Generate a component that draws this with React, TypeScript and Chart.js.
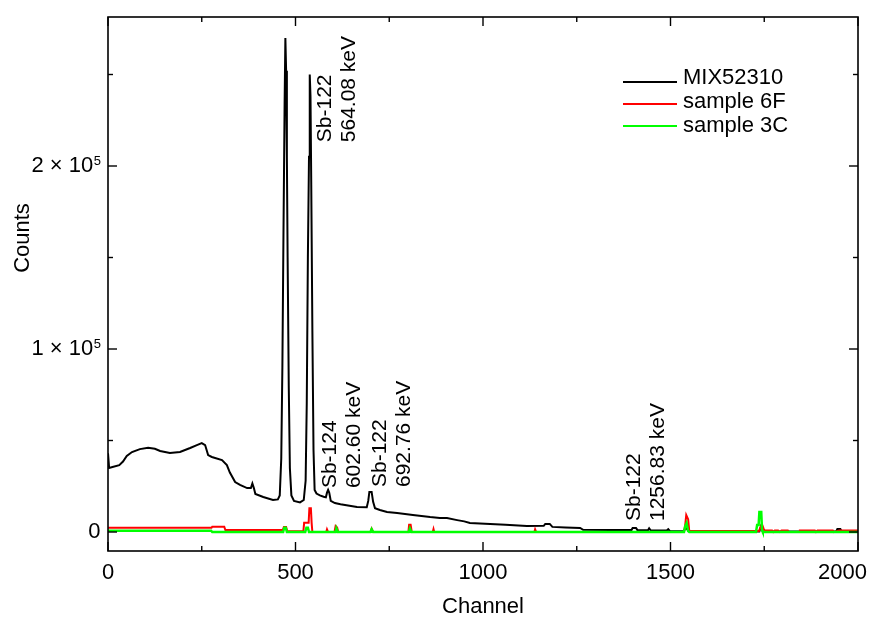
import React, { useEffect, useRef } from "react";
import { Chart, registerables } from "chart.js";

Chart.register(...registerables);

// ---------- data ----------
const seriesNames = ["MIX52310", "sample 6F", "sample 3C"];
const seriesColors = ["#000000", "#ff0000", "#00ff00"];

const mixChannels = [
  0, 2, 3, 12, 30, 40, 50, 64, 85, 107, 125, 139, 165, 192, 219, 237, 250, 259, 267, 277,
  304, 317, 325, 339, 352, 371, 381, 385, 389, 393, 414, 440, 453, 458, 462, 465, 468, 471,
  473, 475, 477, 479, 482, 485, 489, 496, 512, 522, 527, 530, 533, 536, 538, 540, 542, 545,
  548, 551, 556, 565, 575, 581, 584, 587, 590, 594, 605, 620, 640, 664, 690, 694, 697, 703,
  707, 712, 725, 744, 771, 813, 859, 885, 904, 931, 950, 965, 1019, 1060, 1117, 1162, 1166,
  1178, 1185, 1220, 1259, 1267, 1340, 1396, 1399, 1408, 1412, 1440, 1443, 1447, 1490, 1494,
  1498, 1535, 1541, 1548, 1600, 1737, 1741, 1746, 1942, 1945, 1953, 1956, 2000,
];
const mixCounts = [
  43000, 43000, 35000, 35500, 36500, 38500, 41500, 43700, 45300, 46000, 45500, 44300, 43200,
  43700, 45900, 47500, 48600, 47500, 42000, 41000, 39300, 36600, 32500, 27300, 25700, 24000,
  24000, 26500, 24000, 20800, 19100, 17500, 17800, 20000, 40000, 90000, 165000, 235000,
  270000, 252000, 205000, 150000, 80000, 35000, 20000, 17000, 16200, 17500, 28000, 70000,
  150000, 205000, 250000, 238000, 190000, 110000, 45000, 23000, 21000, 20000, 19300, 19000,
  21500, 23000, 21500, 17000, 15800, 15200, 14500, 13700, 13500, 17000, 21900, 21900, 16500,
  13000, 12000, 10900, 10400, 9300, 8200, 7700, 7600, 6500, 5800, 4900, 4400, 3900, 3300,
  3400, 4400, 4400, 2800, 2500, 2200, 1200, 1100, 1100, 2200, 2200, 1000, 1000, 2000, 900,
  800, 1500, 600, 400, 2500, 500, 300, 300, 3000, 300, 300, 1600, 1600, 300, 300,
];

const sample6FChannels = [
  0, 276, 278, 310, 313, 466, 469, 475, 478, 521, 523, 535, 537, 541, 543, 545, 582, 584,
  587, 604, 607, 611, 614, 700, 703, 707, 801, 803, 807, 810, 866, 868, 870, 1137, 1139,
  1142, 1536, 1539, 1542, 1547, 1550, 1736, 1740, 1744, 1748, 1751, 1771, 1774, 1778, 1787,
  1790, 1796, 1813, 1816, 1843, 1845, 1885, 1888, 1892, 1933, 1936, 1950, 2000,
];
const sample6FCounts = [
  2300, 2300, 2900, 2900, 1100, 1100, 2800, 2800, 400, 400, 5000, 5000, 13000, 13000, 5000,
  0, 0, 1500, 0, 0, 3300, 2500, 0, 0, 1800, 0, 0, 4000, 4000, 0, 0, 1600, 0, 0, 1500, 0, 0,
  3500, 9300, 7000, 600, 600, 2500, 4200, 2000, 800, 800, 0, 800, 800, 0, 800, 800, 0, 0,
  800, 800, 0, 800, 800, 0, 800, 800,
];

const sample3CChannels = [
  0, 275, 278, 467, 470, 474, 477, 526, 529, 533, 536, 607, 609, 613, 700, 703, 707, 802,
  805, 809, 1536, 1539, 1543, 1547, 1550, 1728, 1731, 1735, 1737, 1742, 1744, 1746, 2000,
];
const sample3CCounts = [
  700, 700, 0, 0, 2300, 2300, 0, 0, 2300, 2300, 0, 0, 2000, 0, 0, 1500, 0, 0, 2000, 0, 0,
  3000, 4800, 500, 0, 0, 3800, 3800, 10900, 10900, 1000, 0, 0,
];

const xMajorTicks = [0, 500, 1000, 1500, 2000];
const xMinorTicks = [250, 750, 1250, 1750];
const yMajorTicks = [0, 100000, 200000];
const yMinorTicks = [50000, 150000, 250000];
const yTickMantissas = ["0", "1 × 10", "2 × 10"];
const yTickExponents = ["", "5", "5"];

const annotationIsotopes = ["Sb-122", "Sb-124", "Sb-122", "Sb-122"];
const annotationEnergies = ["564.08 keV", "602.60 keV", "692.76 keV", "1256.83 keV"];
const annotationChannels = [595, 608, 741, 1419];
const annotationCounts = [213000, 24000, 24600, 6000];

const xTitle = "Channel";
const yTitle = "Counts";

// ---------- drawing ----------
const FONT = '"Liberation Sans", Arial, Helvetica, sans-serif';

const toPoints = (xs: number[], ys: number[]) => xs.map((x, i) => ({ x, y: ys[i] }));

const framePlugin = {
  id: "mathematicaFrame",
  afterDraw(chart: any) {
    const { ctx, chartArea: a, scales } = chart;
    const xs = scales.x;
    const ys = scales.y;
    ctx.save();
    ctx.strokeStyle = "#000";
    ctx.fillStyle = "#000";
    ctx.lineWidth = 1.6;
    ctx.strokeRect(a.left, a.top, a.right - a.left, a.bottom - a.top);

    ctx.lineWidth = 1.4;
    const tick = (x1: number, y1: number, x2: number, y2: number) => {
      ctx.beginPath();
      ctx.moveTo(x1, y1);
      ctx.lineTo(x2, y2);
      ctx.stroke();
    };
    const xTickSet = (vals: number[], len: number) =>
      vals.forEach((v) => {
        const px = xs.getPixelForValue(v);
        tick(px, a.bottom, px, a.bottom - len);
        tick(px, a.top, px, a.top + len);
      });
    const yTickSet = (vals: number[], len: number) =>
      vals.forEach((v) => {
        const py = ys.getPixelForValue(v);
        tick(a.left, py, a.left + len, py);
        tick(a.right, py, a.right - len, py);
      });
    xTickSet(xMajorTicks, 9);
    xTickSet(xMinorTicks, 5);
    yTickSet(yMajorTicks, 9);
    yTickSet(yMinorTicks, 5);

    // x tick labels
    ctx.font = `22px ${FONT}`;
    ctx.textAlign = "center";
    ctx.textBaseline = "alphabetic";
    xMajorTicks.forEach((v) => {
      const label = String(v);
      const w = ctx.measureText(label).width;
      let px = xs.getPixelForValue(v);
      px = Math.min(px, chart.width - 5 - w / 2);
      ctx.fillText(label, px, a.bottom + 28);
    });

    // y tick labels with superscript exponent
    const right = a.left - 7;
    yMajorTicks.forEach((v, i) => {
      const py = ys.getPixelForValue(v);
      const exp = yTickExponents[i];
      let supW = 0;
      if (exp) {
        ctx.font = `13px ${FONT}`;
        supW = ctx.measureText(exp).width;
        ctx.textAlign = "left";
        ctx.textBaseline = "alphabetic";
        ctx.fillText(exp, right - supW, py - 1);
      }
      ctx.font = `22px ${FONT}`;
      ctx.textAlign = "right";
      ctx.textBaseline = "middle";
      ctx.fillText(yTickMantissas[i], right - supW - 0.5, py);
    });

    // axis titles
    ctx.font = `22px ${FONT}`;
    ctx.textAlign = "center";
    ctx.textBaseline = "alphabetic";
    ctx.fillText(xTitle, (a.left + a.right) / 2, 613);
    ctx.save();
    ctx.translate(29, 238);
    ctx.rotate(-Math.PI / 2);
    ctx.fillText(yTitle, 0, 0);
    ctx.restore();

    // peak annotations
    ctx.font = `21px ${FONT}`;
    ctx.textAlign = "left";
    ctx.textBaseline = "alphabetic";
    annotationIsotopes.forEach((iso, i) => {
      const px = xs.getPixelForValue(annotationChannels[i]);
      const py = ys.getPixelForValue(annotationCounts[i]);
      ctx.save();
      ctx.translate(px, py);
      ctx.rotate(-Math.PI / 2);
      ctx.fillText(iso, 0, 0);
      ctx.fillText(annotationEnergies[i], 0, 24);
      ctx.restore();
    });

    // legend
    const lineY = [82, 104, 126];
    const textY = [84, 108, 132];
    chart.data.datasets.forEach((ds: any, i: number) => {
      ctx.strokeStyle = ds.borderColor;
      ctx.lineWidth = 2;
      tick(623, lineY[i], 677, lineY[i]);
      ctx.fillStyle = "#000";
      ctx.font = `22px ${FONT}`;
      ctx.textAlign = "left";
      ctx.textBaseline = "alphabetic";
      ctx.fillText(ds.label, 683, textY[i]);
    });
    ctx.restore();
  },
};

export default function App() {
  const canvasRef = useRef<HTMLCanvasElement | null>(null);

  useEffect(() => {
    const canvas = canvasRef.current;
    if (!canvas) return;
    const chart = new Chart(canvas, {
      type: "line",
      data: {
        datasets: [
          {
            label: seriesNames[0],
            data: toPoints(mixChannels, mixCounts),
            borderColor: seriesColors[0],
            borderWidth: 2,
            pointRadius: 0,
            fill: false,
            tension: 0,
            order: 3,
          },
          {
            label: seriesNames[1],
            data: toPoints(sample6FChannels, sample6FCounts),
            borderColor: seriesColors[1],
            borderWidth: 2,
            pointRadius: 0,
            fill: false,
            tension: 0,
            order: 2,
          },
          {
            label: seriesNames[2],
            data: toPoints(sample3CChannels, sample3CCounts),
            borderColor: seriesColors[2],
            borderWidth: 2.5,
            pointRadius: 0,
            fill: false,
            tension: 0,
            order: 1,
          },
        ],
      },
      options: {
        responsive: false,
        animation: false,
        devicePixelRatio: 1,
        layout: { padding: { left: 108, top: 17, right: 14, bottom: 69 } },
        scales: {
          x: { type: "linear", min: 0, max: 2000, display: false },
          y: { type: "linear", min: -10380, max: 281420, display: false },
        },
        plugins: {
          legend: { display: false },
          tooltip: { enabled: false },
        },
      },
      plugins: [framePlugin],
    } as any);
    return () => chart.destroy();
  }, []);

  return (
    <div
      style={{
        position: "fixed",
        left: 0,
        top: 0,
        width: 872,
        height: 620,
        background: "#ffffff",
      }}
    >
      <canvas
        ref={canvasRef}
        width={872}
        height={620}
        style={{ display: "block", width: 872, height: 620 }}
      />
    </div>
  );
}
